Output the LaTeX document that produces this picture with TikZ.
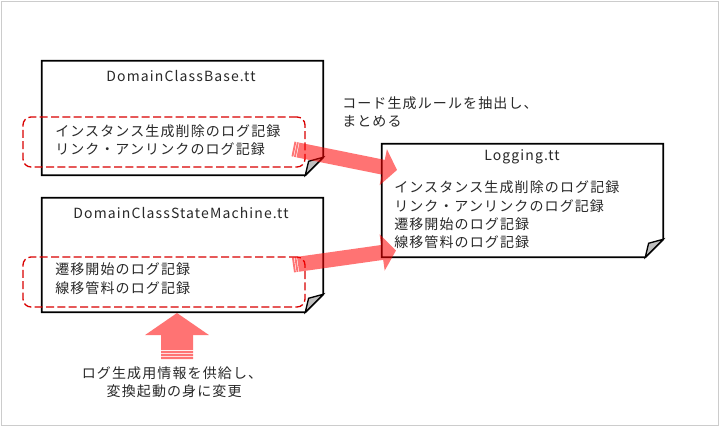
\documentclass[tikz,border=0pt]{standalone}
\usepackage{fontspec}
\setmainfont{Noto Sans CJK JP}[LetterSpace=8]
\usetikzlibrary{arrows.meta,calc}
\definecolor{inkgray}{RGB}{40,40,40}
\tikzset{
    notebox/.style={inner sep=0pt,minimum width=210.75pt},% sticky note frame
    notetext/.style={anchor=west,align=left,inner sep=0pt,text=inkgray,font=\fontsize{10.5}{13.8}\selectfont},
    titletext/.style={inner sep=0pt,text=inkgray,font=\fontsize{10.5}{13}\selectfont},
    dashbox/.style={draw=red!85!black,line width=1pt,dash pattern=on 6pt off 2.5pt,
        rounded corners=6pt,minimum width=211.5pt,minimum height=37.5pt,inner sep=0pt},
    fatarrow/.style={red,line width=11.25pt,-{Triangle[length=10.5pt,width=27pt]}},
    fatstripe/.style={red,line width=11.25pt},
    bigarrow/.style={red,line width=24pt,-{Triangle[length=16.5pt,width=47pt]}},
    bigstripe/.style={red,line width=24pt}
}
\begin{document}
\begin{tikzpicture}[line join=miter,x=0.75pt,y=-0.75pt]
\useasboundingbox (0,0) rectangle (720,427);
\draw[black!20,line width=0.75pt] (1.5,1.5) rectangle (718.5,425.5);
% the three template files
\node[notebox,minimum height=85.5pt] (base) at (182.5,118) {};
\node[notebox,minimum height=85.5pt] (sm) at (182.5,255) {};
\node[notebox,minimum height=84.75pt] (log) at (522.5,200.5) {};
\foreach \n in {base,sm,log}
{
\draw[line width=1.3pt,fill=white] (\n.north west) -- (\n.north east) -- ([yshift=13.5pt]\n.south east)
    -- ([xshift=-13.5pt]\n.south east) -- (\n.south west) -- cycle;
\filldraw[line width=1pt,fill=black!25] ([yshift=13.5pt]\n.south east) -- ([xshift=-13.5pt]\n.south east)
    -- ([xshift=-11pt,yshift=10.5pt]\n.south east) -- cycle;
}
\node[titletext] (basetitle) at (181,76) {DomainClassBase.tt};
\node[titletext] (smtitle) at (181,213) {DomainClassStateMachine.tt};
\node[titletext] (logtitle) at (522,157) {Logging.tt};
\node[notetext] (baselines) at (55,140) {インスタンス生成削除のログ記録\\リンク・アンリンクのログ記録};
\node[notetext] (smlines) at (55,278.5) {遷移開始のログ記録\\線移管料のログ記録};
\node[notetext] (loglines) at (394,215) {インスタンス生成削除のログ記録\\リンク・アンリンクのログ記録\\遷移開始のログ記録\\線移管料のログ記録};
% extracted parts
\node[dashbox] (basepart) at (164,142) {};
\node[dashbox] (smpart) at (164,282) {};
% notes
\node[notetext] (extract) at (342,112) {コード生成ルールを抽出し、\\まとめる};
\node[notetext,anchor=center,align=center] (supply) at (172,382.5) {ログ生成用情報を供給し、\\\ 変換起動の身に変更};
% fat arrows
\coordinate (t1) at (293,149);
\coordinate (h1) at (397,170);
\coordinate (t2) at (293,265);
\coordinate (h2) at (396,250.5);
\coordinate (t3) at (177,359);
\coordinate (h3) at (177,313);
\foreach \t/\h in {t1/h1,t2/h2}
{
\begin{scope}[transparency group,opacity=.55]
\draw[fatstripe] (\t) -- ($(\t)!1.4pt!(\h)$);
\draw[fatstripe] ($(\t)!1.9pt!(\h)$) -- ($(\t)!3.3pt!(\h)$);
\draw[fatarrow] ($(\t)!3.8pt!(\h)$) -- (\h);
\end{scope}
}
\begin{scope}[transparency group,opacity=.55]
\draw[bigstripe] (t3) -- ($(t3)!1.6pt!(h3)$);
\draw[bigstripe] ($(t3)!2.2pt!(h3)$) -- ($(t3)!3.8pt!(h3)$);
\draw[bigstripe] ($(t3)!4.4pt!(h3)$) -- ($(t3)!6pt!(h3)$);
\draw[bigarrow] ($(t3)!6.6pt!(h3)$) -- (h3);
\end{scope}
\end{tikzpicture}
\end{document}
